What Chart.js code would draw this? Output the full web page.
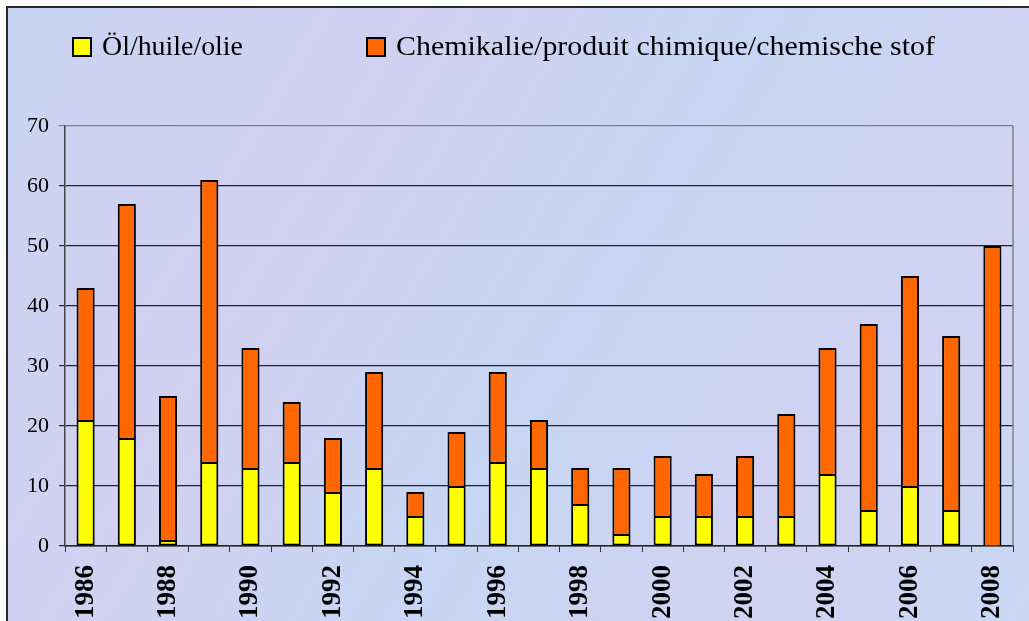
<!DOCTYPE html>
<html>
<head>
<meta charset="utf-8">
<script src="https://cdn.jsdelivr.net/npm/chart.js@4/dist/chart.umd.min.js"></script>
<style>
  html, body { margin: 0; padding: 0; background: #fff; overflow: hidden; }
  #wrap { width: 1029px; height: 621px; position: relative; }
</style>
</head>
<body>
<div id="wrap"><canvas id="spills" width="1029" height="621"></canvas></div>
<script>
// data
const years = ["1986","1987","1988","1989","1990","1991","1992","1993","1994","1995","1996","1997",
               "1998","1999","2000","2001","2002","2003","2004","2005","2006","2007","2008"];
const oil = [21, 18, 1, 14, 13, 14, 9, 13, 5, 10, 14, 13, 7, 2, 5, 5, 5, 5, 12, 6, 10, 6, 0];
const chemical = [22, 39, 24, 47, 20, 10, 9, 16, 4, 9, 15, 8, 6, 11, 10, 7, 10, 17, 21, 31, 35, 29, 50];
const seriesNames = ["Öl/huile/olie", "Chemikalie/produit chimique/chemische stof"];

const serif = "'Liberation Serif', 'Times New Roman', serif";

// textured-looking backdrop and the outer frame
const backdrop = {
    id: "backdrop",
    beforeDraw(chart) {
        const c = chart.ctx;
        c.save();
        const g = c.createLinearGradient(0, 0, chart.width, chart.height);
        g.addColorStop(0, "#c9d4f3");
        g.addColorStop(0.3, "#d3d0f0");
        g.addColorStop(0.55, "#c6d6f4");
        g.addColorStop(0.8, "#d2d2f1");
        g.addColorStop(1, "#c8d8f4");
        c.fillStyle = g;
        c.fillRect(7, 7, chart.width, chart.height);
        c.strokeStyle = "#2b2b2b";
        c.lineWidth = 2;
        c.beginPath();
        c.moveTo(7, chart.height);
        c.lineTo(7, 7);
        c.lineTo(chart.width, 7);
        c.stroke();
        c.restore();
    },
    afterDatasetsDraw(chart) {
        // grey right edge of the plot area
        const a = chart.chartArea;
        const c = chart.ctx;
        c.save();
        c.strokeStyle = "#808080";
        c.lineWidth = 1.5;
        c.beginPath();
        c.moveTo(a.right, a.top);
        c.lineTo(a.right, a.bottom);
        c.stroke();
        c.restore();
    }
};

// legend with wide gap between the two entries
const wideLegend = {
    id: "wideLegend",
    afterDraw(chart) {
        const c = chart.ctx;
        const spots = [73, 367];
        const spans = [141, 539]; // text widths in the reference
        c.save();
        c.font = "28px " + serif;
        c.textBaseline = "middle";
        chart.data.datasets.forEach((ds, i) => {
            const x = spots[i];
            c.fillStyle = ds.backgroundColor;
            c.fillRect(x, 38, 18, 18);
            c.strokeStyle = "#000";
            c.lineWidth = 2;
            c.strokeRect(x, 38, 18, 18);
            c.fillStyle = "#000";
            const w = c.measureText(ds.label).width;
            c.save();
            c.translate(x + 29, 48);
            c.scale(spans[i] / w, 1);
            c.fillText(ds.label, 0, 0);
            c.restore();
        });
        c.restore();
    }
};

const ctx = document.getElementById("spills").getContext("2d");
const chart = new Chart(ctx, {
    type: "bar",
    data: {
        labels: years,
        datasets: [{
                label: seriesNames[0],
                data: oil,
                backgroundColor: "#ffff00",
                borderColor: "#000",
                borderWidth: 2,
                borderSkipped: false,
                barPercentage: 0.44,
                categoryPercentage: 1,
            },
            {
                label: seriesNames[1],
                data: chemical,
                backgroundColor: "#ff6600",
                borderColor: "#000",
                borderWidth: 2,
                borderSkipped: "bottom",
                barPercentage: 0.44,
                categoryPercentage: 1,
            },
        ],
    },
    options: {
        responsive: false,
        animation: false,
        layout: {
            padding: { top: 126, right: 16, left: 0, bottom: 0 },
        },
        scales: {
            x: {
                stacked: true,
                afterFit: (scale) => {
                    scale.height = 75;
                    scale.paddingLeft = 0;
                    scale.paddingRight = 0;
                },
                grid: {
                    drawOnChartArea: false,
                    drawTicks: true,
                    tickLength: 6,
                    tickColor: "#333",
                    offset: true,
                },
                border: { color: "#222", width: 1.5 },
                ticks: {
                    autoSkip: false,
                    minRotation: 90,
                    maxRotation: 90,
                    padding: 13,
                    color: "#000",
                    font: { family: serif, size: 27, weight: "bold" },
                    callback: (v, i) => (i % 2 === 0 ? years[i] : ""),
                },
            },
            y: {
                stacked: true,
                min: 0,
                max: 70,
                afterFit: (scale) => { scale.width = 65; },
                grid: {
                    color: (c) => (c.tick && c.tick.value === 70 ? "#808080" : "#222"),
                    lineWidth: 1.2,
                    tickLength: 6,
                },
                border: { color: "#444", width: 1.5 },
                ticks: {
                    stepSize: 10,
                    padding: 10,
                    color: "#000",
                    font: { family: serif, size: 22 },
                },
            },
        },
        plugins: {
            legend: { display: false },
            tooltip: { enabled: false },
        },
    },
    plugins: [backdrop, wideLegend],
});
</script>
</body>
</html>
